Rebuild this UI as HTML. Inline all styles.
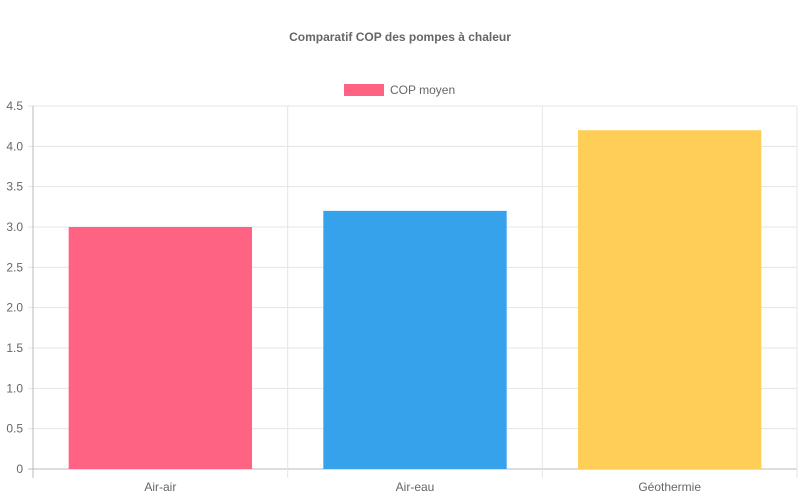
<!DOCTYPE html>
<html><head><meta charset="utf-8"><style>
body{margin:0;background:#fff;}
svg{display:block;font-family:"Liberation Sans",sans-serif;}
</style></head><body>
<svg id="chart" width="800" height="500">
<text x="400" y="41" text-anchor="middle" font-size="12" font-weight="bold" fill="#666">Comparatif COP des pompes à chaleur</text>
<g>
<rect x="344" y="84" width="40" height="12" fill="#ff6384"></rect>
<text x="390" y="94" font-size="12" fill="#666">COP moyen</text>
</g>
<g id="grid"></g><g id="bars"></g><g id="labels"></g>
</svg>
<script>
const categories=["Air-air","Air-eau","Géothermie"];
const values=[3.0,3.2,4.2];
const colors=["#ff6384","#36a2eb","#ffce56"];
const yTicks=[0,0.5,1,1.5,2,2.5,3,3.5,4,4.5];
const yTickLabels=["0","0.5","1.0","1.5","2.0","2.5","3.0","3.5","4.0","4.5"];
const L=33,R=797,T=106,B=469,yMax=4.5;
const NS="http://www.w3.org/2000/svg";
const y=v=>B-(v/yMax)*(B-T);
const cw=(R-L)/categories.length;
const x=i=>L+cw*i;
function mk(tag,attrs,parent){const e=document.createElementNS(NS,tag);for(const k in attrs)e.setAttribute(k,attrs[k]);document.getElementById(parent).appendChild(e);return e;}
yTicks.forEach((t,i)=>{
 const g=mk('line',{x1:L-5,x2:R,y1:y(t),y2:y(t),stroke:i===0?'#bbb':'#e5e5e5','stroke-width':1},'grid');
 
 
 const tx=mk('text',{x:L-10,y:y(t)+4,'text-anchor':'end','font-size':12,fill:'#666'},'labels');
 tx.textContent=yTickLabels[i];
 
 
});
for(let i=0;i<=categories.length;i++){
 const g=mk('line',{x1:x(i),x2:x(i),y1:T,y2:B+9,stroke:i===0?'#bbb':'#e5e5e5','stroke-width':1},'grid');
 
 
}
categories.forEach((c,i)=>{
 const bw=cw*0.72;
 const r=mk('rect',{x:x(i)+(cw-bw)/2,y:y(values[i]),width:bw,height:B-y(values[i]),fill:colors[i]},'bars');
 
 
 const tx=mk('text',{x:x(i)+cw/2,y:B+22,'text-anchor':'middle','font-size':12,fill:'#666'},'labels');
 tx.textContent=c;
 
 
});
</script>
</body></html>
